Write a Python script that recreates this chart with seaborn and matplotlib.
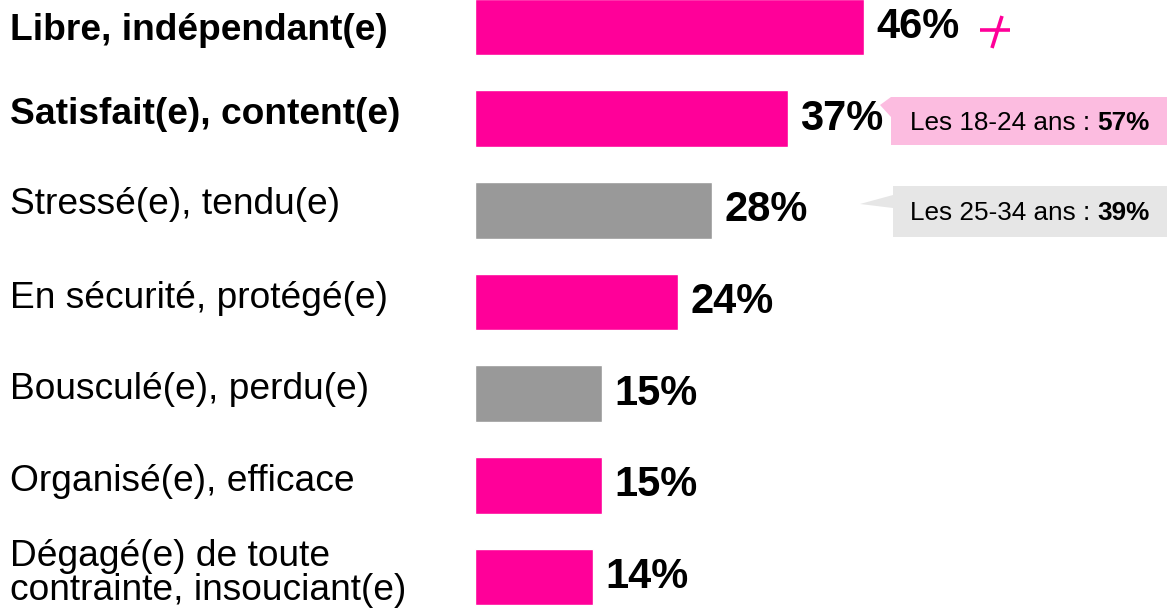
import matplotlib
matplotlib.use('Agg')
import matplotlib.pyplot as plt
import matplotlib.transforms as mtransforms
from matplotlib.patches import Polygon
import seaborn as sns

# data
categories = [
    'Libre, indépendant(e)',
    'Satisfait(e), content(e)',
    'Stressé(e), tendu(e)',
    'En sécurité, protégé(e)',
    'Bousculé(e), perdu(e)',
    'Organisé(e), efficace',
    'Dégagé(e) de toute\ncontrainte, insouciant(e)',
]
values = [46, 37, 28, 24, 15, 15, 14]
bar_kind = ['positive', 'positive', 'negative', 'positive', 'negative', 'positive', 'positive']
bold_rows = [True, True, False, False, False, False, False]

callout_groups = ['Les 18-24 ans : ', 'Les 25-34 ans : ']
callout_values = ['57%', '39%']

MAGENTA = '#FF0099'
GREY = '#999999'
kind_colors = {'positive': MAGENTA, 'negative': GREY}
callout_colors = ['#FCBCE0', '#E6E6E6']

# small vertical nudges of the left labels (data units)
label_nudge = [0.04, -0.04, -0.06, -0.04, -0.04, -0.04, -0.04]

W, H = 1167, 613

sns.set_style('white')
plt.rcParams['font.family'] = ['Liberation Sans', 'DejaVu Sans']
plt.rcParams['text.color'] = 'black'

fig = plt.figure(figsize=(W / 100, H / 100), dpi=100)
ax = fig.add_axes([475 / W, 0, (W - 475) / W, 1])

colors = [kind_colors[k] for k in bar_kind]
sns.barplot(x=values, y=categories, hue=categories, palette=colors,
            legend=False, orient='h', width=0.62, ax=ax, saturation=1)

ax.set_xlim(0, (W - 475) / 8.45)
ax.set_ylim(6.393, -0.2945)
ax.axis('off')

# value labels
for cont, v in zip(ax.containers, values):
    ax.bar_label(cont, labels=[f'{v}%'], padding=9, fontsize=30,
                 fontweight='bold', color='black')

# category labels on the left (x in figure, y in data)
lab_tf = mtransforms.blended_transform_factory(fig.transFigure, ax.transData)
for i, (cat, b, dy) in enumerate(zip(categories, bold_rows, label_nudge)):
    ax.text(10 / W, i + dy, cat, transform=lab_tf, ha='left', va='center',
            fontsize=26.7, fontweight='bold' if b else 'normal',
            linespacing=0.95, color='black', clip_on=False)

# reference pixel coords (top-left origin) -> display
px = mtransforms.Affine2D().scale(1 / W, -1 / H).translate(0, 1) + fig.transFigure

# callouts
boxes = [
    dict(box=(891, 97, 1167, 145), tail=[(891, 97), (880, 105), (891, 117)]),
    dict(box=(893, 186, 1167, 237), tail=[(893, 195), (860, 204), (893, 208)]),
]
for spec, grp, val, col in zip(boxes, callout_groups, callout_values, callout_colors):
    x0, y0, x1, y1 = spec['box']
    ax.add_patch(Polygon([(x0, y0), (x1, y0), (x1, y1), (x0, y1)], closed=True,
                         facecolor=col, edgecolor='none', transform=px, clip_on=False))
    ax.add_patch(Polygon(spec['tail'], closed=True, facecolor=col,
                         edgecolor='none', transform=px, clip_on=False))
    t = ax.text(910, (y0 + y1) / 2 + 2, grp, transform=px, ha='left', va='center',
                fontsize=18.8, color='black', clip_on=False)
    ax.annotate(val, xy=(1, 0), xycoords=t, ha='left', va='bottom',
                fontsize=18.8, fontweight='bold', color='black',
                annotation_clip=False)

# the little slanted plus next to the top bar
ax.plot([980, 1010], [30, 30], color=MAGENTA, lw=2.6, transform=px, clip_on=False,
        solid_capstyle='butt')
ax.plot([1002, 992], [16, 48], color=MAGENTA, lw=2.6, transform=px, clip_on=False,
        solid_capstyle='butt')

fig.savefig('out.png', dpi=100)
